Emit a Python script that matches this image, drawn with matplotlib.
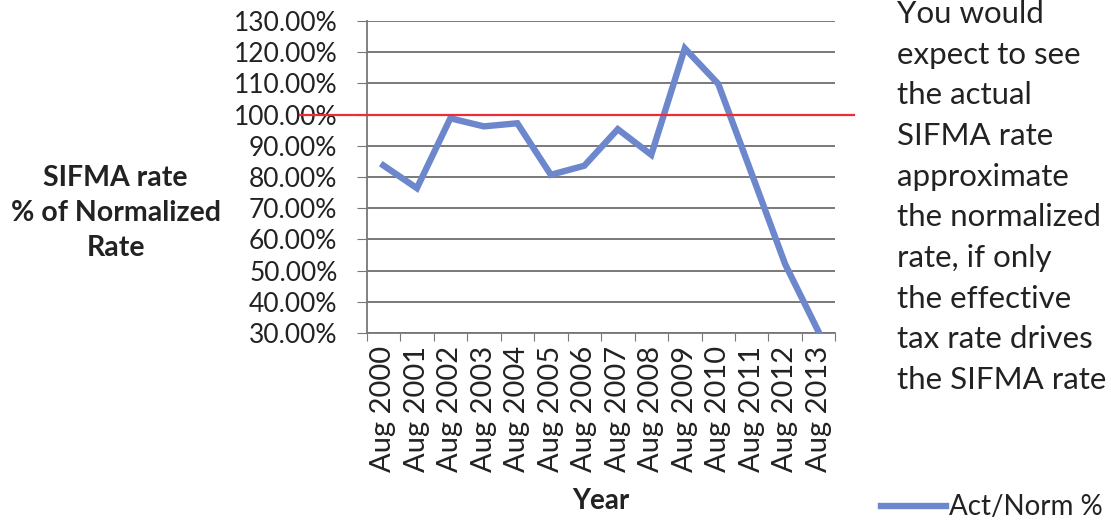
import matplotlib.pyplot as plt
from matplotlib.ticker import FuncFormatter

plt.rcParams['font.family'] = ['Lato', 'DejaVu Sans']

years = ['Aug 2000', 'Aug 2001', 'Aug 2002', 'Aug 2003', 'Aug 2004', 'Aug 2005', 'Aug 2006',
         'Aug 2007', 'Aug 2008', 'Aug 2009', 'Aug 2010', 'Aug 2011', 'Aug 2012', 'Aug 2013']
act_norm = [83.7, 76.4, 98.8, 96.2, 97.2, 80.7, 83.6, 95.3, 87.1, 121.2, 109.8, 81.0, 52.0, 30.3]
normalized = 100.0

note = ('You would\nexpect to see\nthe actual\nSIFMA rate\napproximate\nthe normalized\n'
        'rate, if only\nthe effective\ntax rate drives\nthe SIFMA rate')

fig = plt.figure(figsize=(11.11, 5.22), dpi=100)
ax = fig.add_axes([0.330, 0.362, 0.422, 0.598])

x = range(len(years))
ax.plot(x, act_norm, color='#6d87cd', lw=4.6, solid_joinstyle='miter', label='Act/Norm %', zorder=3)
# red reference line sticks out past the plot on both sides
ax.axhline(normalized, xmin=-0.143, xmax=1.04, color='#ee2b36', lw=1.6, clip_on=False, zorder=4)

ax.set_xlim(-0.5, len(years) - 0.5)
ax.set_ylim(30, 130)
ax.set_yticks(range(30, 131, 10))
ax.yaxis.set_major_formatter(FuncFormatter(lambda v, p: f'{v:.2f}%'))
ax.set_xticks([i - 0.5 for i in range(len(years) + 1)], minor=False)
ax.set_xticklabels([])
ax.set_xticks(list(x), minor=True)
ax.set_xticklabels(years, minor=True, rotation=90, fontsize=21, color='#222222')
ax.tick_params(axis='x', which='minor', length=0, pad=9)
ax.tick_params(axis='x', which='major', length=6, color='#777777', direction='out')
ax.tick_params(axis='y', length=7, color='#777777', labelsize=19, labelcolor='#222222', pad=14)

ax.grid(axis='y', color='#6e6e6e', lw=1.3)
ax.set_axisbelow(True)
for s in ['top', 'right']:
    ax.spines[s].set_visible(False)
for s in ['left', 'bottom']:
    ax.spines[s].set_color('#777777')
    ax.spines[s].set_linewidth(1.3)

fig.text(0.104, 0.592, 'SIFMA rate\n% of Normalized\nRate', ha='center', va='center',
         fontsize=20.5, fontweight='bold', color='#222222', linespacing=1.45)
fig.text(0.541, 0.040, 'Year', ha='center', va='center', fontsize=20,
         fontweight='bold', color='#222222')
fig.text(0.807, 1.0, note, ha='left', va='top', fontsize=22.5, color='#222222', linespacing=1.55)

ax.legend(loc='center left', bbox_to_anchor=(0.793, 0.028), bbox_transform=fig.transFigure,
          frameon=False, fontsize=20, handlelength=2.35, handletextpad=0.1, labelcolor='#222222',
          borderpad=0, borderaxespad=0)

fig.savefig('out.png', dpi=100)
